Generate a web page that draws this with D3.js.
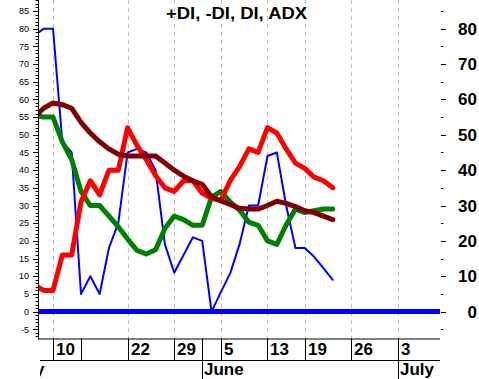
<!DOCTYPE html>
<html><head><meta charset="utf-8">
<script src="https://cdn.jsdelivr.net/npm/d3@7"></script>
<style>
html,body{margin:0;padding:0;background:#fff;}
svg{display:block;font-family:"Liberation Sans",Arial,sans-serif;}
</style></head>
<body><svg id="c" width="479" height="379"></svg>
<script>
// trading-day index (0 = May 10), data from index -2 to 30
const dayIndex = d3.range(-2, 31);
const plusDI  = [78,80,80,48,45,5,10,5,18,25,45,46,45,40,19,11,16,21,20,0,5.5,10.8,19,30,30,44,45,30,18,18,15.5,12.3,9];
const minusDI = [7.5,6,6,16,16,31,37,33,40,40,52,47,43,38.5,35,34,37,37,33.5,32,31.5,37,41,46,45,52,50.5,46,42,40.5,38,37,35];
const diLine  = [55.5,55,55,48,43,34,30,30,27,24,20.5,17.3,16.3,17.5,23.5,27,26,24.4,24.4,32.4,34,31,28.7,25.3,24.4,20,19,24.5,29,28,28.5,29,29];
const adx     = [55,57.5,59,58.5,57.5,53.5,50.5,48,46,44.5,44,44,44,44,42,40,38.3,37,36,32.5,31.3,30.3,29.2,29,29,30,31.2,30.6,29.7,28.5,28,27,26];
const tickIdx    = [0,3,8,13,18,23,27,32,37];
const tickLabels = ["10","","22","29","5","13","19","26","3"];
const gridIdx    = [0,8,13,18,23,27,32,37];
const monthIdx    = [-20,16,37];
const monthLabels = ["May","June","July"];
const title = "+DI, -DI, DI, ADX";

const svg = d3.select("#c");
const L = 38, R = 440, T = 0, B = 338.5;
const x = d3.scaleLinear().domain([-1.61, 41.5]).range([L, R]);
const y = d3.scaleLinear().domain([-7.6, 88.1]).range([B, T]);

svg.append("defs").append("clipPath").attr("id","plot")
  .append("rect").attr("x",L).attr("y",T).attr("width",R-L).attr("height",B-T);
svg.select("defs").append("clipPath").attr("id","month")
  .append("rect").attr("x",L+2).attr("y",360).attr("width",R-L).attr("height",20);

// gridlines
svg.append("g").selectAll("line").data(gridIdx).join("line")
  .attr("x1",d=>Math.round(x(d))+0.5).attr("x2",d=>Math.round(x(d))+0.5)
  .attr("y1",T).attr("y2",B)
  .attr("stroke","#c0c0c0").attr("stroke-width",1).attr("stroke-dasharray","4,4");

// title
svg.append("text").attr("x",166).attr("y",19).attr("font-size",16).attr("font-weight","bold")
  .attr("textLength",141).attr("lengthAdjust","spacingAndGlyphs").text(title);

// zero line
svg.append("line").attr("x1",L).attr("x2",R).attr("y1",y(0)).attr("y2",y(0))
  .attr("stroke","#0000ff").attr("stroke-width",5);

const g = svg.append("g").attr("clip-path","url(#plot)");
const line = d3.line().x((d,i)=>x(dayIndex[i])).y(d=>y(d));
const series = [
  {v: plusDI, c:"#0000ff", w:2},
  {v: diLine, c:"#008000", w:5},
  {v: minusDI, c:"#ff0000", w:5},
  {v: adx, c:"#800000", w:5}
];
series.forEach(s=>{
  g.append("path").attr("d", line(s.v)).attr("fill","none")
   .attr("stroke", s.c).attr("stroke-width", s.w).attr("stroke-linejoin","round").attr("stroke-linecap","round");
});

// left axis
const yl = svg.append("g");
yl.append("line").attr("x1",L+0.5).attr("x2",L+0.5).attr("y1",0).attr("y2",B+0.5).attr("stroke","#000");
d3.range(-7, 89).forEach(v=>{
  const major = v % 5 === 0;
  yl.append("line").attr("x1", L - (major?5:2.5)).attr("x2", L).attr("y1", Math.round(y(v))+0.5).attr("y2", Math.round(y(v))+0.5)
    .attr("stroke","#000");
  if (major) yl.append("text").attr("x", 29).attr("y", y(v)+3.2).attr("text-anchor","end")
    .attr("font-size",9).text(v);
});

// right axis
const yr = svg.append("g");
d3.range(-5, 86, 5).forEach(v=>{
  const major = v % 10 === 0;
  yr.append("line").attr("x1",441).attr("x2", major?446:443.5).attr("y1", Math.round(y(v))+0.5).attr("y2", Math.round(y(v))+0.5)
    .attr("stroke","#000");
  if (major) yr.append("text").attr("x",477).attr("y", y(v)+6).attr("text-anchor","end")
    .attr("font-size",17).attr("font-weight","bold").text(v);
});

// x axis date rows
const xa = svg.append("g").attr("stroke","#000");
xa.append("line").attr("x1",L).attr("x2",R).attr("y1",B+0.5).attr("y2",B+0.5);
xa.append("line").attr("x1",L+2).attr("x2",R).attr("y1",360.5).attr("y2",360.5);
tickIdx.forEach(i=>{
  const px = Math.round(x(i))+0.5;
  xa.append("line").attr("x1",px).attr("x2",px).attr("y1",B).attr("y2",360.5);
});
monthIdx.forEach(i=>{
  if (x(i) < L) return;
  const px = Math.round(x(i))+0.5;
  xa.append("line").attr("x1",px).attr("x2",px).attr("y1",B).attr("y2",379);
});
svg.append("g").selectAll("text").data(tickIdx).join("text")
  .attr("x",(d)=>Math.round(x(d))+3).attr("y",355)
  .attr("font-size",17).attr("font-weight","bold")
  .text((d,i)=>tickLabels[i]);
svg.append("g").attr("clip-path","url(#month)").selectAll("text").data(monthIdx).join("text")
  .attr("x",d=> x(d) < L ? 44.5 : Math.round(x(d))+2)
  .attr("text-anchor", d=> x(d) < L ? "end" : "start")
  .attr("y",375).attr("font-size",17).attr("font-weight","bold")
  .text((d,i)=>monthLabels[i]);
</script></body></html>
